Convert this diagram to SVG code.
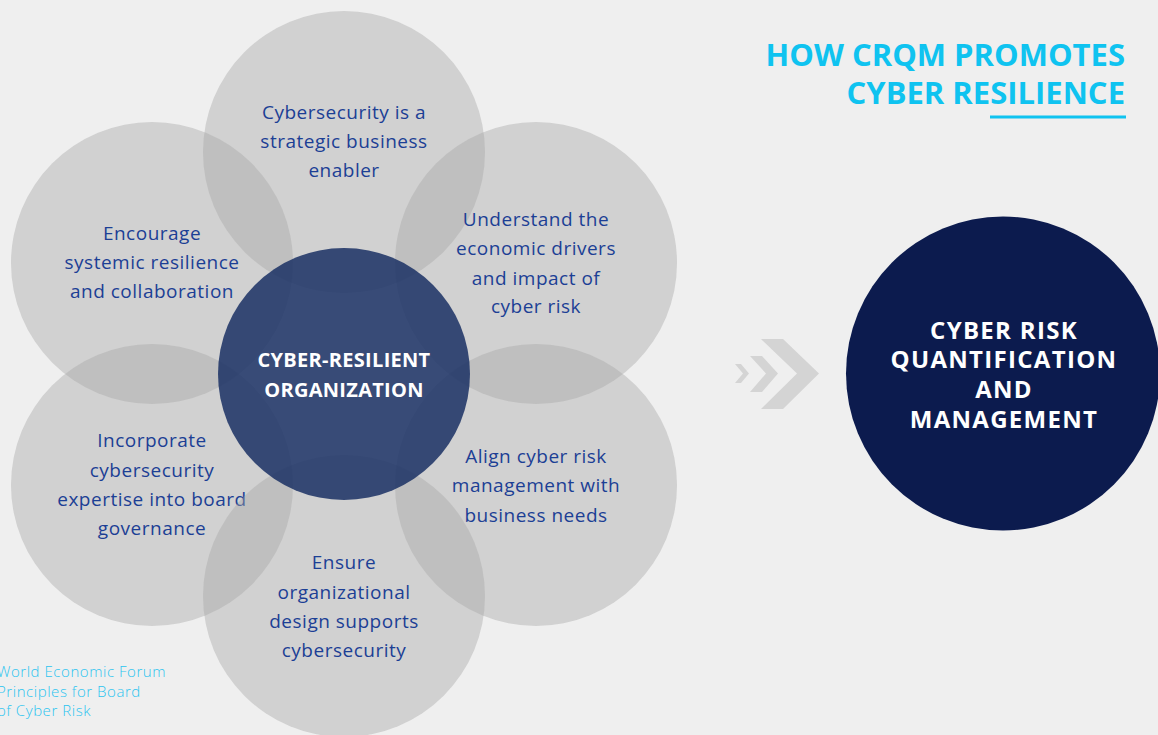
<svg xmlns="http://www.w3.org/2000/svg" width="1158" height="735" viewBox="0 0 1158 735">
  <defs>
    <style>
      .petal { fill: #a6a6a6; fill-opacity: 0.42; }
      .core { fill: #1f3466; fill-opacity: 0.88; }
      .ptxt { font-family: "Open Sans", "Liberation Sans", sans-serif; font-size: 19px; letter-spacing: 0.5px; fill: #1c3f95; text-anchor: middle; }
      .ctxt { font-family: "Open Sans", "Liberation Sans", sans-serif; font-size: 20px; letter-spacing: 0.3px; font-weight: 700; fill: #ffffff; text-anchor: middle; }
      .rtxt { font-family: "Open Sans", "Liberation Sans", sans-serif; font-size: 24px; letter-spacing: 1.3px; font-weight: 700; fill: #ffffff; text-anchor: middle; }
      .title { font-family: "Open Sans", "Liberation Sans", sans-serif; font-size: 31px; font-weight: 700; fill: #0fc3f0; text-anchor: end; }
      .foot { font-family: "Open Sans", "Liberation Sans", sans-serif; font-size: 15px; letter-spacing: 0.55px; font-weight: 300; fill: #2bc4ef; }
      .chev { fill: #d4d4d4; }
    </style>
  </defs>

  <rect x="0" y="0" width="1158" height="735" fill="#efefef"/>

  <!-- Six principle petals around the core -->
  <g id="petal-top">
    <circle class="petal" cx="344" cy="152" r="141"/>
    <text class="ptxt" x="344" y="119">Cybersecurity is a</text>
    <text class="ptxt" x="344" y="148">strategic business</text>
    <text class="ptxt" x="344" y="177">enabler</text>
  </g>
  <g id="petal-upper-left">
    <circle class="petal" cx="152" cy="263" r="141"/>
    <text class="ptxt" x="152" y="240">Encourage</text>
    <text class="ptxt" x="152" y="269">systemic resilience</text>
    <text class="ptxt" x="152" y="298">and collaboration</text>
  </g>
  <g id="petal-upper-right">
    <circle class="petal" cx="536" cy="263" r="141"/>
    <text class="ptxt" x="536" y="226">Understand the</text>
    <text class="ptxt" x="536" y="255">economic drivers</text>
    <text class="ptxt" x="536" y="285">and impact of</text>
    <text class="ptxt" x="536" y="313">cyber risk</text>
  </g>
  <g id="petal-lower-left">
    <circle class="petal" cx="152" cy="485" r="141"/>
    <text class="ptxt" x="152" y="447">Incorporate</text>
    <text class="ptxt" x="152" y="477">cybersecurity</text>
    <text class="ptxt" x="152" y="506">expertise into board</text>
    <text class="ptxt" x="152" y="535">governance</text>
  </g>
  <g id="petal-lower-right">
    <circle class="petal" cx="536" cy="485" r="141"/>
    <text class="ptxt" x="536" y="463">Align cyber risk</text>
    <text class="ptxt" x="536" y="492">management with</text>
    <text class="ptxt" x="536" y="522">business needs</text>
  </g>
  <g id="petal-bottom">
    <circle class="petal" cx="344" cy="596" r="141"/>
    <text class="ptxt" x="344" y="569">Ensure</text>
    <text class="ptxt" x="344" y="599">organizational</text>
    <text class="ptxt" x="344" y="628">design supports</text>
    <text class="ptxt" x="344" y="657">cybersecurity</text>
  </g>

  <!-- Core circle -->
  <g id="core">
    <circle class="core" cx="344" cy="374" r="126"/>
    <text class="ctxt" x="344" y="367">CYBER-RESILIENT</text>
    <text class="ctxt" x="344" y="397">ORGANIZATION</text>
  </g>

  <!-- Chevron arrow -->
  <g id="connectors">
    <polygon class="chev" points="735,364 741,364 749,373.5 741,383 735,383 743,373.5"/>
    <polygon class="chev" points="750,356 762,356 778,373.5 762,392 750,392 766,373.5"/>
    <polygon class="chev" points="761,339 783,339 819,373.5 783,409 761,409 797,373.5"/>
  </g>

  <!-- Outcome circle -->
  <g id="outcome">
    <circle cx="1003" cy="373.5" r="157" fill="#0c1b4e"/>
    <text class="rtxt" x="1004" y="339">CYBER RISK</text>
    <text class="rtxt" x="1004" y="368">QUANTIFICATION</text>
    <text class="rtxt" x="1004" y="398">AND</text>
    <text class="rtxt" x="1004" y="428">MANAGEMENT</text>
  </g>

  <!-- Heading -->
  <g id="heading">
    <text class="title" x="1125" y="66">HOW CRQM PROMOTES</text>
    <text class="title" x="1125" y="104">CYBER RESILIENCE</text>
    <rect x="990" y="115.5" width="136" height="3" fill="#0fc3f0"/>
  </g>

  <!-- Source note -->
  <g id="source">
    <text class="foot" x="-3" y="677">World Economic Forum</text>
    <text class="foot" x="-3" y="697">Principles for Board</text>
    <text class="foot" x="-3" y="716">of Cyber Risk</text>
  </g>
</svg>
